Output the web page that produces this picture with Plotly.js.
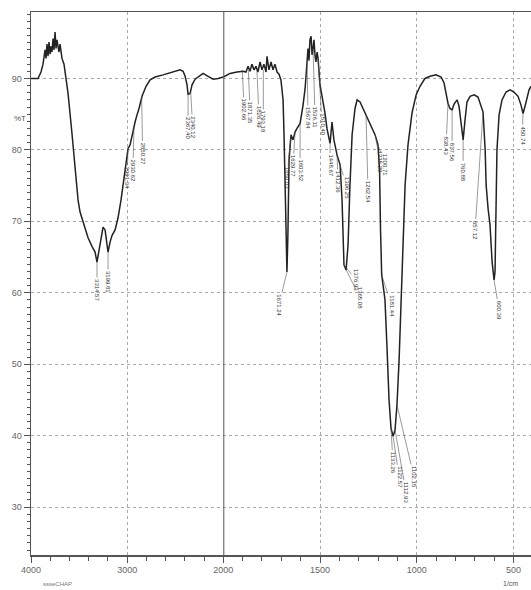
<!DOCTYPE html>
<html>
<head>
<meta charset="utf-8">
<script src="https://cdn.plot.ly/plotly-3.0.1.min.js"></script>
<style>html,body{margin:0;padding:0;background:#fff;}#chart{width:531px;height:590px;}</style>
</head>
<body>
<div id="chart"></div>
<script>
// Spectrum, 4000-2000 cm-1 (compressed scale)
var wnHigh = [4000,3927,3896,3875,3854,3844,3834,3823,3813,3802,3792,3782,3771,3761,3750,3740,3730,3719,3709,3698,3688,3678,3657,3646,3636,3615,3574,3542,3511,3490,3459,3407,3366,3334,3314,3293,3272,3251,3230,3210,3199,3178,3158,3126,3095,3064,3033,3012,2991,2970,2950,2918,2898,2877,2846,2804,2762,2710,2627,2534,2450,2419,2398,2378,2367,2346,2326,2294,2253,2211,2159,2107,2055,2000];
var tHigh = [90.0,90.0,90.9,92.0,94.0,92.8,94.8,93.1,95.1,93.4,94.5,93.7,95.6,94.0,96.5,94.2,95.4,94.5,93.7,94.8,93.4,92.8,92.0,90.9,90.0,87.9,82.3,77.6,73.0,71.3,69.9,67.7,66.5,65.7,64.3,66.0,68.1,69.2,68.8,67.1,65.7,67.1,68.0,68.8,70.5,73.0,76.0,78.6,80.2,80.7,82.1,83.9,84.9,85.8,87.5,88.9,89.8,90.2,90.5,90.9,91.2,91.0,90.3,89.1,87.8,87.9,89.1,89.9,90.3,90.7,90.3,89.9,90.0,90.2];
// Spectrum, 2000-400 cm-1 (expanded scale)
var wnLow = [2000,1981,1965,1929,1898,1883,1872,1862,1852,1841,1831,1821,1810,1800,1790,1779,1774,1764,1753,1743,1733,1722,1712,1702,1691,1686,1681,1676,1671,1666,1660,1650,1640,1629,1619,1603,1588,1577,1567,1562,1557,1552,1546,1541,1536,1531,1526,1521,1515,1510,1500,1490,1474,1464,1448,1438,1428,1412,1396,1386,1381,1376,1365,1355,1345,1334,1319,1308,1293,1277,1262,1246,1231,1215,1200,1192,1187,1181,1174,1164,1153,1143,1133,1122,1112,1102,1091,1081,1071,1060,1045,1024,1003,983,957,931,900,874,859,848,838,828,817,807,791,781,771,760,750,740,724,703,683,667,657,646,641,631,621,610,600,595,590,585,574,559,538,517,497,476,461,450,440,430,419,409];
var tLow = [90.2,90.5,90.7,90.9,91.0,90.9,91.7,91.0,92.0,91.2,91.7,90.9,92.3,91.2,92.0,90.9,93.1,91.2,92.3,91.2,92.0,90.9,90.6,89.8,87.0,82.1,77.2,69.5,62.9,68.1,78.6,82.1,81.4,82.5,83.0,83.7,86.2,88.6,92.3,94.2,92.5,95.4,95.9,93.3,94.2,95.4,93.3,92.3,93.7,92.8,89.1,87.7,85.1,83.0,80.9,83.9,81.4,79.3,77.9,73.0,67.4,63.9,63.2,66.7,75.1,82.1,85.8,87.0,86.7,85.8,84.8,83.9,83.0,82.1,80.7,77.2,68.8,62.5,61.1,59.0,52.0,45.0,41.1,39.9,40.8,44.3,50.6,59.0,68.1,75.1,80.7,85.2,87.7,88.9,90.0,90.3,90.5,90.2,89.4,87.9,86.5,85.8,85.6,86.4,87.0,86.1,83.5,81.4,84.2,86.7,87.5,87.7,87.4,86.2,85.3,80.0,75.1,71.8,69.5,64.3,61.8,62.9,71.6,80.0,84.9,87.0,88.1,88.4,88.1,87.5,86.3,85.1,86.1,87.2,88.4,88.9];

// Peak picks
var peakWn = [3314,3199,2991,2930,2850,2367,2340,1902,1871,1826,1793,1671,1650,1629,1603,1567,1536,1510,1448,1412,1396,1376,1365,1262,1215,1200,1181,1133,1122,1112,1102,838,817,760,657,600,450];
var peakT = [64.3,65.7,80.3,83.0,87.5,87.8,88.1,91.2,91.2,91.2,91.2,62.9,82.1,82.5,83.7,92.3,94.2,92.8,80.9,79.3,77.9,63.9,63.2,84.9,82.1,80.7,62.5,41.1,39.9,40.8,44.3,86.5,85.6,81.4,85.3,61.8,85.1];
var peakText = ['3314.57','3199.81','2991.34','2930.62','2850.27','2367.40','2340.12','1902.66','1871.35','1826.49','1793.18','1671.24','1650.03','1629.77','1603.52','1567.84','1536.11','1510.40','1448.67','1412.36','1396.25','1376.93','1365.08','1262.54','1215.29','1200.71','1181.44','1133.26','1122.57','1112.93','1102.15','838.43','817.56','760.88','657.12','600.39','450.74'];

// Label leader offsets (px) - styling only
var labelDx = [0,0,-1,-1,1,0,2,2,2,2,0,-8,-4,-2,0,1,2,4,0,1,7,12,14,2,5,7,10,2,6,11,17,-2,0,0,-8,5,-1];
var labelDy = [28,30,30,42,57,34,35,40,43,47,52,33,43,34,47,56,69,66,22,27,23,15,28,77,27,20,31,35,41,62,72,42,42,32,118,30,22];

var lineStyle = {color:'#222', width:1.5};
var traces = [
  {x: wnHigh, y: tHigh, xaxis:'x', yaxis:'y', mode:'lines', line:lineStyle, hoverinfo:'skip'},
  {x: wnLow, y: tLow, xaxis:'x2', yaxis:'y', mode:'lines', line:lineStyle, hoverinfo:'skip'}
];

var split = 192.3/500;
var tickFont = {family:'Liberation Sans, Arial, sans-serif', size:9, color:'#666'};
var common = {
  showgrid:true, gridcolor:'#a8a8a8', griddash:'dot', gridwidth:1,
  showline:true, linecolor:'#555', linewidth:1.5, mirror:true,
  ticks:'outside', ticklen:6, tickcolor:'#555', tickfont:tickFont, zeroline:false
};

var annotations = [];
for (var i = 0; i < peakWn.length; i++) {
  annotations.push({
    x: peakWn[i], y: peakT[i], xref: peakWn[i] >= 2000 ? 'x' : 'x2', yref:'y',
    text: peakText[i], textangle: 90, showarrow:true, arrowhead:0, arrowwidth:0.6,
    arrowcolor:'#555', ax: labelDx[i], ay: labelDy[i], standoff:0,
    font:{family:'Liberation Sans, Arial, sans-serif', size:6, color:'#333'}
  });
}
annotations.push({xref:'paper', yref:'paper', x:-0.038, y:0.816, text:'%T', showarrow:false,
  font:{family:'Liberation Sans, Arial, sans-serif', size:8, color:'#555'}});
annotations.push({xref:'paper', yref:'paper', x:0.978, y:-0.062, text:'1/cm', showarrow:false,
  font:{family:'Liberation Sans, Arial, sans-serif', size:7, color:'#555'}});
annotations.push({xref:'paper', yref:'paper', x:0.02, y:-0.062, xanchor:'left', text:'ssseCHAP', showarrow:false,
  font:{family:'Liberation Sans, Arial, sans-serif', size:6, color:'#777'}});

var layout = {
  width:531, height:590,
  margin:{l:31, r:0, t:12, b:35},
  paper_bgcolor:'#fff', plot_bgcolor:'#fff',
  showlegend:false,
  xaxis: Object.assign({}, common, {
    domain:[0, split], range:[4000, 2001], anchor:'y',
    tickmode:'linear', tick0:0, dtick:1000,
    minor:{tickmode:'linear', tick0:0, dtick:200, ticks:'outside', ticklen:4, tickcolor:'#555', showgrid:false}
  }),
  xaxis2: Object.assign({}, common, {
    domain:[split, 1], range:[2000, 409], anchor:'y',
    tickmode:'linear', tick0:0, dtick:500,
    minor:{tickmode:'linear', tick0:0, dtick:100, ticks:'outside', ticklen:4, tickcolor:'#555', showgrid:false}
  }),
  yaxis: Object.assign({}, common, {
    range:[23.3, 99.3], anchor:'x', mirror:false,
    tickmode:'linear', tick0:0, dtick:10,
    minor:{tickmode:'linear', tick0:0, dtick:1, ticks:'outside', ticklen:3, tickcolor:'#555', showgrid:false}
  }),
  shapes:[
    {type:'line', xref:'x2', yref:'paper', x0:2000, x1:2000, y0:0, y1:1, line:{color:'#555', width:2}}
  ],
  annotations: annotations
};

Plotly.newPlot('chart', traces, layout, {staticPlot:true, displayModeBar:false});
</script>
</body>
</html>
